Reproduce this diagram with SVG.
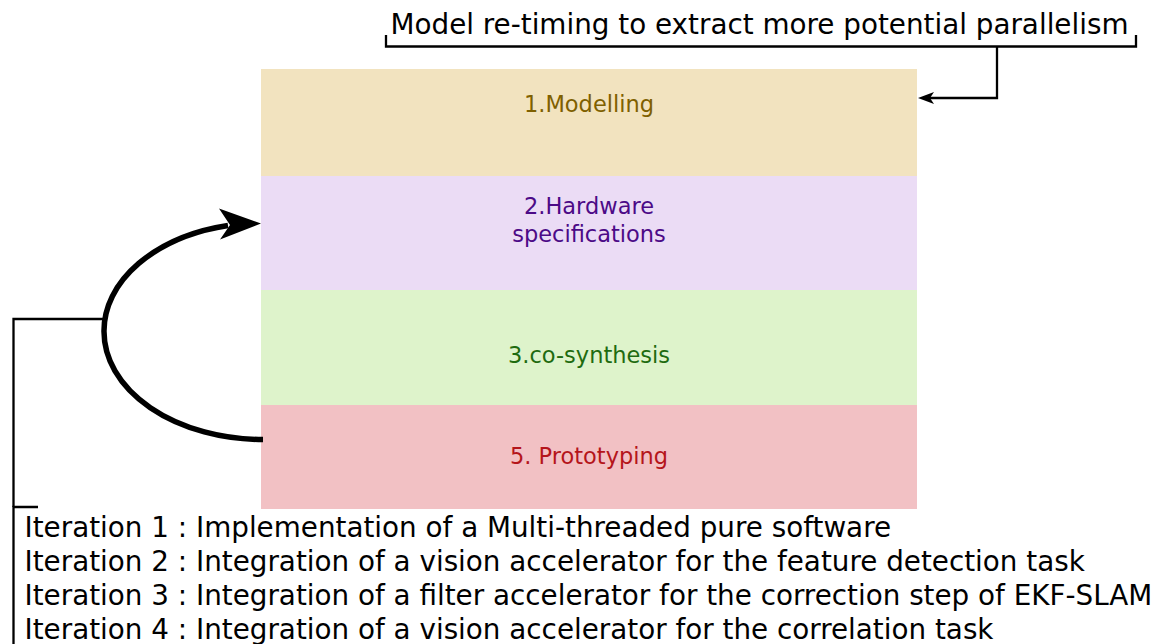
<svg xmlns="http://www.w3.org/2000/svg" width="1158" height="644" viewBox="0 0 1158 644">
<style>
text{font-family:"DejaVu Sans","Liberation Sans",sans-serif}
.big{font-size:27.8px;fill:#000}
.lbl{font-size:22.5px;text-anchor:middle}
.thin{fill:none;stroke:#000;stroke-width:2.3}
</style>
<rect width="1158" height="644" fill="#fff"/>
<g id="node-modelling">
<rect x="261" y="69" width="656" height="107" fill="#f2e3bf"/>
<text class="lbl" x="589" y="112" fill="#7f6000">1.Modelling</text>
</g>
<g id="node-hardware">
<rect x="261" y="176" width="656" height="114" fill="#ebdcf5"/>
<text class="lbl" x="589" y="214" fill="#4c0a87">2.Hardware</text>
<text class="lbl" x="589" y="242" fill="#4c0a87">specifications</text>
</g>
<g id="node-cosynthesis">
<rect x="261" y="290" width="656" height="115" fill="#def3cb"/>
<text class="lbl" x="589" y="363" fill="#1e6b10">3.co-synthesis</text>
</g>
<g id="node-prototyping">
<rect x="261" y="405" width="656" height="104" fill="#f2c1c4"/>
<text class="lbl" x="589" y="464" fill="#b5151b">5. Prototyping</text>
</g>
<g id="note-retiming">
<text class="big" x="390.5" y="34">Model re-timing to extract more potential parallelism</text>
<path class="thin" d="M386,35 V46.5 H1136 V35"/>
</g>
<g id="note-iterations">
<text class="big" x="24.5" y="537">Iteration 1 : Implementation of a Multi-threaded pure software</text>
<text class="big" x="24.5" y="571">Iteration 2 : Integration of a vision accelerator for the feature detection task</text>
<text class="big" x="24.5" y="605">Iteration 3 : Integration of a filter accelerator for the correction step of EKF-SLAM</text>
<text class="big" x="24.5" y="639">Iteration 4 : Integration of a vision accelerator for the correlation task</text>
<path class="thin" d="M38,507 H13.5 V644"/>
</g>
<g id="connectors">
<path class="thin" d="M997,46.5 V98 H930"/>
<polygon points="918,98 934,92 930,98 934,104" fill="#000"/>
<path d="M263,439.5 A159,108 0 0 1 104,331 A159,108 0 0 1 228,225.5" fill="none" stroke="#000" stroke-width="5.5"/>
<polygon points="261,223.5 219,208.5 230,225 220,239.5" fill="#000"/>
<path class="thin" d="M103,319 H13.5 V507"/>
</g>
</svg>
